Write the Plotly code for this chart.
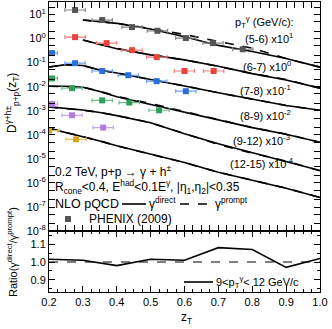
import plotly.graph_objects as go

# ---------------- data ----------------
z_lo = [0.20, 0.25, 0.30, 0.35, 0.40, 0.50, 0.60, 0.70, 0.80, 0.90, 1.00]
z_hi = [0.30, 0.40, 0.50, 0.60, 0.70, 0.80, 0.90, 1.00]

# NLO gamma-direct (scaled as displayed)
dir_5_6 = [5.9, 4.3, 2.5, 1.19, 0.52, 0.29, 0.148, 0.065]
dir_6_7 = [0.87, 0.38, 0.21, 0.13, 0.071, 0.035, 0.019, 0.0087]
dir_7_8 = [0.066, 0.083, 0.076, 0.049, 0.037, 0.0204, 0.0107, 0.0056, 0.00295, 0.00166, 0.00105]
dir_8_9 = [0.0105, 0.0105, 0.0095, 0.0063, 0.0038, 0.0018, 0.00089, 0.00043, 0.00020, 0.000105, 0.000049]
dir_9_12 = [1.45e-3, 1.26e-3, 1.07e-3, 8.5e-4, 6.3e-4, 3.2e-4, 1.12e-4, 4.3e-5, 1.86e-5, 7.9e-6, 3.3e-6]
dir_12_15 = [1.86e-4, 1.26e-4, 8.7e-5, 5.6e-5, 3.5e-5, 1.6e-5, 7.1e-6, 2.8e-6, 1.26e-6, 6.0e-7, 2.5e-7]

# NLO gamma-prompt
pr_5_6 = [5.9, 4.3, 2.6, 1.48, 0.76, 0.40, 0.148, 0.065]
pr_6_7 = [0.87, 0.39, 0.21, 0.13, 0.070, 0.035, 0.020, 0.0087]
pr_7_8 = [0.066, 0.082, 0.077, 0.049, 0.037, 0.0204, 0.0108, 0.0056, 0.0030, 0.00166, 0.00105]
pr_8_9 = [0.0105, 0.0104, 0.0096, 0.0064, 0.0040, 0.0020, 0.00092, 0.00043, 0.00020, 0.000107, 0.000049]
pr_9_12 = [1.43e-3, 1.245e-3, 1.06e-3, 8.55e-4, 6.4e-4, 3.15e-4, 1.11e-4, 4.0e-5, 1.74e-5, 8.1e-6, 3.2e-6]
pr_12_15 = [1.86e-4, 1.27e-4, 8.6e-5, 5.6e-5, 3.5e-5, 1.6e-5, 7.0e-6, 2.8e-6, 1.26e-6, 6.1e-7, 2.5e-7]

# PHENIX (2009) data points (scaled as displayed), with horizontal bin half-widths
ph_5_6_z = [0.277, 0.357, 0.445, 0.520, 0.604, 0.684, 0.772]
ph_5_6_y = [15.4, 5.9, 3.0, 2.1, 1.05, 0.65, 0.36]
ph_5_6_ex = [0.03, 0.03, 0.03, 0.03, 0.03, 0.03, 0.03]
ph_6_7_z = [0.277, 0.370, 0.445, 0.518, 0.600, 0.686]
ph_6_7_y = [1.15, 0.65, 0.33, 0.17, 0.045, 0.045]
ph_6_7_ex = [0.03, 0.03, 0.03, 0.03, 0.03, 0.03]
ph_7_8_z = [0.209, 0.277, 0.357, 0.434, 0.518, 0.604]
ph_7_8_y = [0.25, 0.095, 0.045, 0.030, 0.017, 0.0065]
ph_7_8_ex = [0.016, 0.03, 0.03, 0.03, 0.03, 0.03]
ph_8_9_z = [0.209, 0.268, 0.357, 0.437, 0.525]
ph_8_9_y = [0.022, 0.0087, 0.0027, 0.0022, 0.00105]
ph_8_9_ex = [0.016, 0.03, 0.03, 0.03, 0.03]
ph_9_12_z = [0.209, 0.268, 0.360]
ph_9_12_y = [0.0019, 6.5e-4, 2.0e-4]
ph_9_12_ex = [0.016, 0.03, 0.03]
ph_12_15_z = [0.200, 0.280]
ph_12_15_y = [1.5e-4, 6.5e-5]
ph_12_15_ex = [0.03, 0.03]

# ratio panel (9 < pT < 12)
z_ratio = [0.2, 0.3, 0.4, 0.5, 0.6, 0.7, 0.8, 0.9, 1.0]
ratio_9_12 = [1.015, 1.01, 0.98, 1.015, 1.01, 1.08, 1.07, 0.97, 1.02]

labels = ["(5-6) x10<sup>1</sup>", "(6-7) x10<sup>0</sup>", "(7-8) x10<sup>-1</sup>",
          "(8-9) x10<sup>-2</sup>", "(9-12) x10<sup>-3</sup>", "(12-15) x10<sup>-4</sup>"]

FONT = "Liberation Sans, Arial, Helvetica, sans-serif"
W, H = 332, 329
ML, MR, MT, MB = 49, 12, 2, 37
PW, PH = W - ML - MR, H - MT - MB


def px(xp):
    return (xp - ML) / PW


def py(yp):
    return (H - MB - yp) / PH


fig = go.Figure()

curves = [
    (z_hi, dir_5_6, pr_5_6),
    (z_hi, dir_6_7, pr_6_7),
    (z_lo, dir_7_8, pr_7_8),
    (z_lo, dir_8_9, pr_8_9),
    (z_lo, dir_9_12, pr_9_12),
    (z_lo, dir_12_15, pr_12_15),
]
for zz, d, p in curves:
    fig.add_trace(go.Scatter(x=zz, y=p, mode="lines", xaxis="x", yaxis="y2",
                             line=dict(color="black", width=1.6, dash="dash"), showlegend=False))
    fig.add_trace(go.Scatter(x=zz, y=d, mode="lines", xaxis="x", yaxis="y2",
                             line=dict(color="black", width=1.6), showlegend=False))

points = [
    (ph_5_6_z, ph_5_6_y, ph_5_6_ex, "#555555", "#888888"),
    (ph_6_7_z, ph_6_7_y, ph_6_7_ex, "#e8453c", "#f08080"),
    (ph_7_8_z, ph_7_8_y, ph_7_8_ex, "#2a6fdb", "#6fa0ee"),
    (ph_8_9_z, ph_8_9_y, ph_8_9_ex, "#2e9e5b", "#6cc08c"),
    (ph_9_12_z, ph_9_12_y, ph_9_12_ex, "#b07ee0", "#c9a4ee"),
    (ph_12_15_z, ph_12_15_y, ph_12_15_ex, "#d9a21b", "#e6bf5c"),
]
for zz, yy, ex, c, ce in points:
    fig.add_trace(go.Scatter(
        x=zz, y=yy, mode="markers", xaxis="x", yaxis="y2",
        marker=dict(symbol="square", size=6, color=c),
        error_x=dict(type="data", array=ex, symmetric=True, color=ce, thickness=1.2, width=2),
        showlegend=False, cliponaxis=True))

# ratio panel
fig.add_trace(go.Scatter(x=[0.2, 1.0], y=[1.0, 1.0], mode="lines", xaxis="x", yaxis="y",
                         line=dict(color="black", width=1.2, dash="dash"), showlegend=False))
fig.add_trace(go.Scatter(x=z_ratio, y=ratio_9_12, mode="lines", xaxis="x", yaxis="y",
                         line=dict(color="black", width=1.6), showlegend=False))

ymin_log, ymax_log = -8, 1.52
dec_vals = [10.0 ** k for k in range(-8, 2)]
dec_text = ["10<sup>%d</sup>" % k for k in range(-8, 2)]

axis_common = dict(showline=True, linecolor="black", linewidth=1, mirror="allticks",
                   ticks="inside", tickcolor="black", showgrid=False, zeroline=False,
                   tickfont=dict(family=FONT, size=11, color="black"))

fig.update_layout(
    width=W, height=H,
    margin=dict(l=ML, r=MR, t=MT, b=MB),
    paper_bgcolor="white", plot_bgcolor="white",
    font=dict(family=FONT, size=11, color="black"),
    xaxis=dict(range=[0.2, 1.0], dtick=0.1, tick0=0.2, ticklen=6, tickformat=".1f",
               minor=dict(dtick=0.025, ticks="inside", ticklen=3, tickcolor="black"),
               anchor="y", **axis_common),
    yaxis=dict(domain=[0, 0.21], range=[0.833, 1.172], tickvals=[0.9, 1.0, 1.1],
               ticktext=["0.9", "1.0", "1.1"], ticklen=6,
               minor=dict(dtick=0.05, tick0=0.8, ticks="inside", ticklen=3, tickcolor="black"),
               anchor="x", **axis_common),
    yaxis2=dict(domain=[0.21, 1], type="log", range=[ymin_log, ymax_log],
                tickvals=dec_vals, ticktext=dec_text, ticklen=6,
                minor=dict(ticks="inside", ticklen=3, tickcolor="black"),
                anchor="x", **axis_common),
)

fig.update_layout(xaxis2=dict(range=[0.2, 1.0], dtick=0.1, tick0=0.2, ticklen=6,
                              showticklabels=False, matches="x", anchor="y2", overlaying="x",
                              minor=dict(dtick=0.025, ticks="inside", ticklen=3, tickcolor="black"),
                              **axis_common))
fig.add_trace(go.Scatter(x=[0.2], y=[1e-9], xaxis="x2", yaxis="y2", mode="markers",
                         marker=dict(opacity=0), showlegend=False, hoverinfo="skip"))

ann = []
lab_pos = [(243, 38), (241, 66), (238, 90), (238, 115), (231, 140), (228, 163)]
for t, (xp, yp) in zip(labels, lab_pos):
    ann.append(dict(text=t, x=px(xp), y=py(yp), xanchor="left", yanchor="middle"))
ann.append(dict(text="p<sub>T</sub><sup>γ</sup> (GeV/c):", x=px(233), y=py(22), xanchor="left", yanchor="middle"))
ann.append(dict(text="0.2 TeV, p+p \u2192 γ + h<sup>±</sup>", x=px(53), y=py(171), xanchor="left",
                yanchor="middle", font=dict(size=12)))
ann.append(dict(text="R<sub>cone</sub><0.4, E<sup>had</sup><0.1E<sup>γ</sup>, |η<sub>1</sub>,η<sub>2</sub>|<0.35",
                x=px(53), y=py(187), xanchor="left", yanchor="middle", font=dict(size=12)))
ann.append(dict(text="NLO pQCD", x=px(53), y=py(204), xanchor="left", yanchor="middle", font=dict(size=12.5)))
ann.append(dict(text="γ<sup>direct</sup>", x=px(147), y=py(203), xanchor="left", yanchor="middle", font=dict(size=12)))
ann.append(dict(text="γ<sup>prompt</sup>", x=px(213), y=py(203), xanchor="left", yanchor="middle", font=dict(size=12)))
ann.append(dict(text="PHENIX (2009)", x=px(87), y=py(219), xanchor="left", yanchor="middle", font=dict(size=12)))
ann.append(dict(text="9<p<sub>T</sub><sup>γ</sup>< 12 GeV/c", x=px(214), y=py(282), xanchor="left", yanchor="middle"))
ann.append(dict(text="D<sup>γ+h±</sup><sub>p+p</sub>(z<sub>T</sub>)", x=px(12), y=py(103),
                xanchor="center", yanchor="middle", textangle=-90, font=dict(size=12)))
ann.append(dict(text="Ratio(γ<sup>direct</sup>/γ<sup>prompt</sup>)", x=px(12), y=py(252),
                xanchor="center", yanchor="middle", textangle=-90, font=dict(size=11)))
ann.append(dict(text="z<sub>T</sub>", x=px(186), y=py(318), xanchor="center", yanchor="middle",
                font=dict(size=12)))
for a in ann:
    a.update(xref="paper", yref="paper", showarrow=False)
    a.setdefault("font", dict(size=11))
fig.update_layout(annotations=ann)

shapes = [
    dict(type="line", x0=px(122), x1=px(146), y0=py(204), y1=py(204), line=dict(color="black", width=1.6)),
    dict(type="line", x0=px(180), x1=px(212), y0=py(204), y1=py(204), line=dict(color="black", width=1.6, dash="dash")),
    dict(type="rect", x0=px(65), x1=px(71), y0=py(222), y1=py(216), fillcolor="#555555", line=dict(width=0)),
    dict(type="line", x0=px(184), x1=px(213), y0=py(282), y1=py(282), line=dict(color="black", width=1.6)),
]
for s in shapes:
    s.update(xref="paper", yref="paper")
fig.update_layout(shapes=shapes)

fig.write_html("out.html", config={"displayModeBar": False},
               post_script="document.body.style.margin='0';document.body.style.padding='0';"
                           "document.body.style.overflow='hidden';")
